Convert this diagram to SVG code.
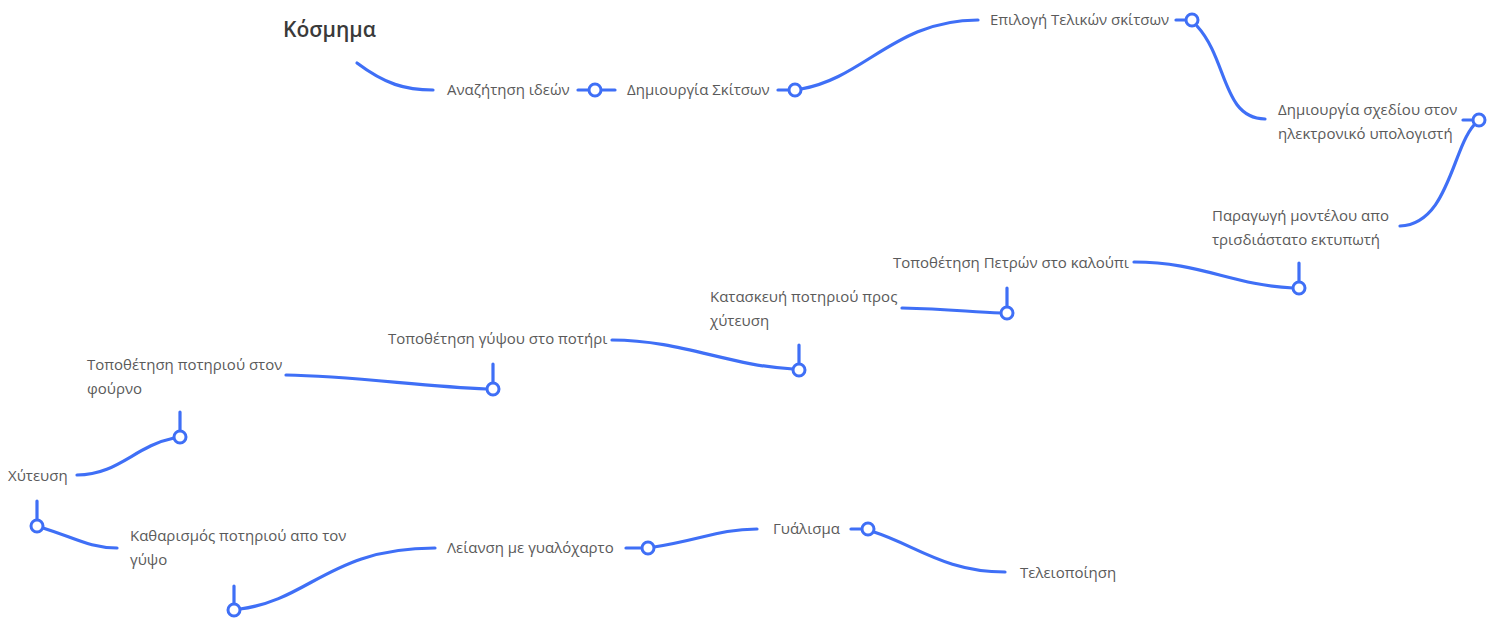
<svg xmlns="http://www.w3.org/2000/svg" width="1499" height="618" viewBox="0 0 1499 618">
<style>
.lbl{font-family:"Open Sans","Noto Sans","DejaVu Sans",sans-serif;font-size:15px;fill:#5a5a5a}
.ttl{font-family:"Open Sans","Noto Sans","DejaVu Sans",sans-serif;font-size:21px;font-weight:600;fill:#3a3a3a}
.c{fill:none;stroke:#3f6ff6;stroke-width:3.2;stroke-linecap:round}
.p{fill:#fff;stroke:#3f6ff6;stroke-width:3}
</style>
<rect width="1499" height="618" fill="#fff"/>
<g id="connectors">
<path class="c" d="M357,63 C385,84 405,90 433,90"/>
<path class="c" d="M578,90 H589 M601,90 H615"/>
<path class="c" d="M778,90 H789"/>
<path class="c" d="M801,89 C865,78 895,20 978,20"/>
<path class="c" d="M1176,20 H1186"/>
<path class="c" d="M1197,26 C1228,60 1222,118 1265,119"/>
<path class="c" d="M1463,120 H1473"/>
<path class="c" d="M1474,125 C1452,150 1448,224 1400,226"/>
<path class="c" d="M1299,263 V282"/>
<path class="c" d="M1134,262 C1200,262 1232,285 1293,288"/>
<path class="c" d="M1007,288 V307"/>
<path class="c" d="M902,308 C950,309 970,312 1001,313"/>
<path class="c" d="M799,345 V364"/>
<path class="c" d="M612,340 C680,340 730,366 793,369"/>
<path class="c" d="M493,364 V383"/>
<path class="c" d="M286,375 C350,376 420,386 487,389"/>
<path class="c" d="M180,412 V431"/>
<path class="c" d="M77,475 C118,475 135,446 174,438"/>
<path class="c" d="M37,501 V520"/>
<path class="c" d="M43,528 C75,538 90,548 117,548"/>
<path class="c" d="M234,586 V604"/>
<path class="c" d="M240,609 C310,600 330,548 435,548"/>
<path class="c" d="M626,548 H642"/>
<path class="c" d="M654,547 C700,540 720,529 757,529"/>
<path class="c" d="M851,529 H862"/>
<path class="c" d="M874,532 C915,545 945,572 1005,572"/>
<circle class="p" cx="595" cy="90" r="6"/>
<circle class="p" cx="795" cy="90" r="6"/>
<circle class="p" cx="1192" cy="20" r="6"/>
<circle class="p" cx="1479" cy="120" r="6"/>
<circle class="p" cx="1299" cy="288" r="6"/>
<circle class="p" cx="1007" cy="313" r="6"/>
<circle class="p" cx="799" cy="370" r="6"/>
<circle class="p" cx="493" cy="389" r="6"/>
<circle class="p" cx="180" cy="437" r="6"/>
<circle class="p" cx="37" cy="526" r="6"/>
<circle class="p" cx="234" cy="610" r="6"/>
<circle class="p" cx="648" cy="548" r="6"/>
<circle class="p" cx="868" cy="529" r="6"/>
</g>
<g id="n-root"><text class="ttl" x="283" y="37">Κόσμημα</text></g>
<g id="n1"><text class="lbl" x="447" y="95">Αναζήτηση ιδεών</text></g>
<g id="n2"><text class="lbl" x="627" y="95">Δημιουργία Σκίτσων</text></g>
<g id="n3"><text class="lbl" x="990" y="25">Επιλογή Τελικών σκίτσων</text></g>
<g id="n4"><text class="lbl" x="1278" y="115">Δημιουργία σχεδίου στον</text><text class="lbl" x="1278" y="139">ηλεκτρονικό υπολογιστή</text></g>
<g id="n5"><text class="lbl" x="1212" y="221">Παραγωγή μοντέλου απο</text><text class="lbl" x="1212" y="245">τρισδιάστατο εκτυπωτή</text></g>
<g id="n6"><text class="lbl" x="893" y="268">Τοποθέτηση Πετρών στο καλούπι</text></g>
<g id="n7"><text class="lbl" x="710" y="302">Κατασκευή ποτηριού προς</text><text class="lbl" x="710" y="326">χύτευση</text></g>
<g id="n8"><text class="lbl" x="388" y="344">Τοποθέτηση γύψου στο ποτήρι</text></g>
<g id="n9"><text class="lbl" x="87" y="370">Τοποθέτηση ποτηριού στον</text><text class="lbl" x="87" y="394">φούρνο</text></g>
<g id="n10"><text class="lbl" x="8" y="481">Χύτευση</text></g>
<g id="n11"><text class="lbl" x="130" y="541">Καθαρισμός ποτηριού απο τον</text><text class="lbl" x="130" y="565">γύψο</text></g>
<g id="n12"><text class="lbl" x="447" y="553">Λείανση με γυαλόχαρτο</text></g>
<g id="n13"><text class="lbl" x="773" y="534">Γυάλισμα</text></g>
<g id="n14"><text class="lbl" x="1020" y="578">Τελειοποίηση</text></g>
</svg>
